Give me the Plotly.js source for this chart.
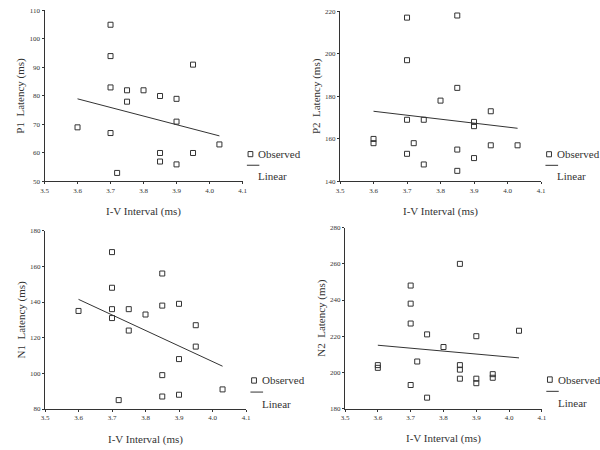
<!DOCTYPE html>
<html>
<head>
<meta charset="utf-8">
<script src="https://cdn.plot.ly/plotly-3.0.1.min.js"></script>
<style>html,body{margin:0;padding:0;background:#fff}#chart{width:600px;height:450px}</style>
</head>
<body>
<div id="chart"></div>
<script>
// I-V interval (ms) for each observation, per panel
const p1X = [3.6, 3.7, 3.7, 3.7, 3.7, 3.72, 3.75, 3.75, 3.8, 3.85, 3.85, 3.85, 3.9, 3.9, 3.9, 3.95, 3.95, 4.03];
const p1Y = [69, 105, 94, 83, 67, 53, 82, 78, 82, 80, 60, 57, 79, 71, 56, 91, 60, 63];

const p2X = [3.6, 3.6, 3.7, 3.7, 3.7, 3.7, 3.72, 3.75, 3.75, 3.8, 3.85, 3.85, 3.85, 3.85, 3.9, 3.9, 3.9, 3.95, 3.95, 4.03];
const p2Y = [160, 158, 217, 197, 169, 153, 158, 169, 148, 178, 218, 184, 155, 145, 168, 166, 151, 173, 157, 157];

const n1X = [3.6, 3.7, 3.7, 3.7, 3.7, 3.72, 3.75, 3.75, 3.8, 3.85, 3.85, 3.85, 3.85, 3.9, 3.9, 3.9, 3.95, 3.95, 4.03];
const n1Y = [135, 168, 148, 136, 131, 85, 136, 124, 133, 156, 138, 99, 87, 139, 108, 88, 127, 115, 91];

const n2X = [3.6, 3.6, 3.7, 3.7, 3.7, 3.7, 3.72, 3.75, 3.75, 3.8, 3.85, 3.85, 3.85, 3.85, 3.9, 3.9, 3.9, 3.95, 3.95, 4.03];
const n2Y = [204, 202.5, 248, 238, 227, 193, 206, 221, 186, 214, 260, 204, 201.5, 196.5, 220, 196.5, 194, 199, 197, 223];

// Linear fit end points
const lineX = [3.6, 4.03];
const p1Line = [79, 66];
const p2Line = [173, 165];
const n1Line = [141.5, 104];
const n2Line = [215, 208];

const yTitles = ['P1  Latency (ms)', 'P2  Latency (ms)', 'N1  Latency (ms)', 'N2  Latency (ms)'];
const xTitle = 'I-V Interval (ms)';
const yRanges = [[50, 110], [140, 220], [80, 180], [180, 280]];
const yDticks = [10, 20, 20, 20];
const legendLabels = ['Observed', 'Linear'];

const ink = '#333';
const font = 'Liberation Serif, Times New Roman, serif';

const panels = [
  {x: p1X, y: p1Y, l: p1Line},
  {x: p2X, y: p2Y, l: p2Line},
  {x: n1X, y: n1Y, l: n1Line},
  {x: n2X, y: n2Y, l: n2Line}
];

const xDomains = [[0.0742, 0.4042], [0.5667, 0.9017], [0.075, 0.41], [0.575, 0.9033]];
const yDomains = [[0.5967, 0.9767], [0.5967, 0.975], [0.0911, 0.4873], [0.0922, 0.494]];

const traces = [];
const layout = {
  width: 600, height: 450,
  margin: {l: 0, r: 0, t: 0, b: 0},
  paper_bgcolor: '#fff', plot_bgcolor: '#fff',
  showlegend: false,
  font: {family: font, color: ink},
  shapes: [], annotations: []
};

panels.forEach((p, i) => {
  const n = i + 1;
  const xa = n === 1 ? 'x' : 'x' + n;
  const ya = n === 1 ? 'y' : 'y' + n;
  traces.push({
    type: 'scatter', mode: 'markers', x: p.x, y: p.y, xaxis: xa, yaxis: ya,
    name: legendLabels[0], cliponaxis: false,
    marker: {symbol: 'square-open', size: 5, color: ink, line: {width: 1, color: ink}}
  });
  traces.push({
    type: 'scatter', mode: 'lines', x: lineX, y: p.l, xaxis: xa, yaxis: ya,
    name: legendLabels[1], line: {color: ink, width: 1}
  });
  const axCommon = {
    showgrid: false, zeroline: false, showline: true, linecolor: ink, linewidth: 1,
    ticks: 'outside', ticklen: 2, tickcolor: ink, tickwidth: 1,
    tickfont: {family: font, size: 7, color: ink}
  };
  layout['xaxis' + (n === 1 ? '' : n)] = Object.assign({}, axCommon, {
    domain: xDomains[i], anchor: ya, range: [3.5, 4.1], dtick: 0.1, tick0: 3.5,
    tickformat: '.1f',
    title: {text: xTitle, font: {family: font, size: 11, color: ink}, standoff: 13}
  });
  layout['yaxis' + (n === 1 ? '' : n)] = Object.assign({}, axCommon, {
    domain: yDomains[i], anchor: xa, range: yRanges[i], dtick: yDticks[i],
    title: {text: yTitles[i], font: {family: font, size: 11, color: ink}, standoff: 2}
  });
  const xr = xa + ' domain', yr = ya + ' domain';
  // legend symbols
  layout.shapes.push({type: 'rect', xref: xr, yref: yr, x0: 1.028, x1: 1.052, y0: 0.145, y1: 0.175,
    line: {color: ink, width: 1}, fillcolor: 'rgba(0,0,0,0)'});
  layout.shapes.push({type: 'line', xref: xr, yref: yr, x0: 1.022, x1: 1.085, y0: 0.095, y1: 0.095,
    line: {color: ink, width: 1}});
  layout.annotations.push({xref: xr, yref: yr, x: 1.07, y: 0.16, xanchor: 'left', yanchor: 'middle',
    text: legendLabels[0], showarrow: false, font: {family: font, size: 11, color: ink}});
  layout.annotations.push({xref: xr, yref: yr, x: 1.07, y: 0.03, xanchor: 'left', yanchor: 'middle',
    text: legendLabels[1], showarrow: false, font: {family: font, size: 11, color: ink}});
});

Plotly.newPlot('chart', traces, layout, {displayModeBar: false, staticPlot: true});
</script>
</body>
</html>
